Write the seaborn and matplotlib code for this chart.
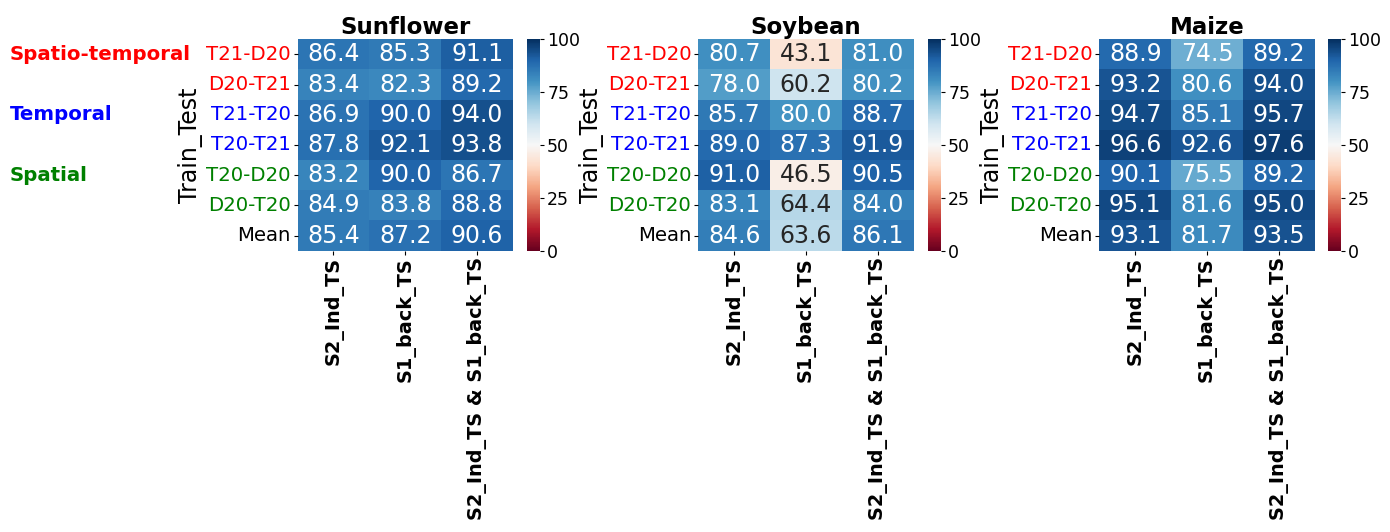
import matplotlib
matplotlib.use("Agg")
import matplotlib.pyplot as plt
import seaborn as sns
import numpy as np
import pandas as pd

rows = ["T21-D20", "D20-T21", "T21-T20", "T20-T21", "T20-D20", "D20-T20", "Mean"]
row_colors = ["red", "red", "blue", "blue", "green", "green", "black"]
cols = ["S2_Ind_TS", "S1_back_TS", "S2_Ind_TS & S1_back_TS"]
crops = ["Sunflower", "Soybean", "Maize"]

sunflower = [[86.4, 85.3, 91.1],
             [83.4, 82.3, 89.2],
             [86.9, 90.0, 94.0],
             [87.8, 92.1, 93.8],
             [83.2, 90.0, 86.7],
             [84.9, 83.8, 88.8],
             [85.4, 87.2, 90.6]]
soybean = [[80.7, 43.1, 81.0],
           [78.0, 60.2, 80.2],
           [85.7, 80.0, 88.7],
           [89.0, 87.3, 91.9],
           [91.0, 46.5, 90.5],
           [83.1, 64.4, 84.0],
           [84.6, 63.6, 86.1]]
maize = [[88.9, 74.5, 89.2],
         [93.2, 80.6, 94.0],
         [94.7, 85.1, 95.7],
         [96.6, 92.6, 97.6],
         [90.1, 75.5, 89.2],
         [95.1, 81.6, 95.0],
         [93.1, 81.7, 93.5]]

groups = ["Spatio-temporal", "Temporal", "Spatial"]
group_colors = ["red", "blue", "green"]
group_rows = [0, 2, 4]

W, H = 1390, 532
fig = plt.figure(figsize=(W / 100, H / 100), dpi=100)

heat_left = [297.5, 698.3, 1099.3]
cbar_left = [526.7, 927.7, 1327.7]
top, bottom = 39.3, 250.7
hw = 215.5
cw = 13.5

def fx(x):
    return x / W

def fy(y):
    return 1 - y / H

for i, (name, data) in enumerate(zip(crops, [sunflower, soybean, maize])):
    ax = fig.add_axes([fx(heat_left[i]), fy(bottom), hw / W, (bottom - top) / H])
    cax = fig.add_axes([fx(cbar_left[i]), fy(bottom), cw / W, (bottom - top) / H])
    df = pd.DataFrame(data, index=rows, columns=cols)
    sns.heatmap(df, ax=ax, cbar_ax=cax, cmap="RdBu", vmin=0, vmax=100,
                annot=True, fmt=".1f", annot_kws={"fontsize": 17})
    ax.set_title(name, fontsize=16.5, fontweight="bold", pad=4)
    ax.set_ylabel("Train_Test", fontsize=17, labelpad=2)
    ax.set_xlabel("")
    ax.set_yticklabels(rows, rotation=0, fontsize=14.2)
    for lab, c in zip(ax.get_yticklabels(), row_colors):
        lab.set_color(c)
    ax.set_xticklabels(cols, rotation=90, fontsize=13.9, fontweight="bold")
    ax.tick_params(axis="y", length=3, pad=2)
    ax.tick_params(axis="x", length=3, pad=1.5)
    cax.set_yticks([0, 25, 50, 75, 100])
    cax.tick_params(labelsize=12.5, length=3, pad=2)

row_h = (bottom - top) / len(rows)
for g, c, r in zip(groups, group_colors, group_rows):
    fig.text(fx(10), fy(top + (r + 0.5) * row_h), g, color=c, fontsize=14.2,
             fontweight="bold", ha="left", va="center")

fig.savefig("out.png", dpi=100)
